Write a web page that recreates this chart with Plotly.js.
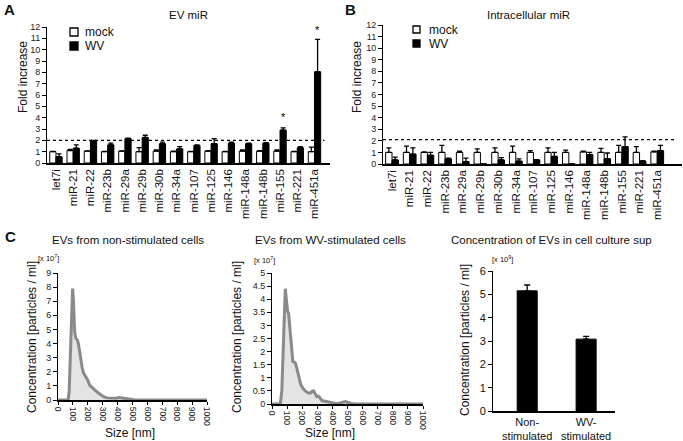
<!DOCTYPE html>
<html>
<head>
<meta charset="utf-8">
<script src="https://cdn.plot.ly/plotly-3.0.1.min.js"></script>
<style>html,body{margin:0;padding:0;background:#fff;}#chart{width:683px;height:441px;}</style>
</head>
<body>
<div id="chart"></div>
<script>
// ---------- DATA ----------
var mirs = ['let7i','miR-21','miR-22','miR-23b','miR-29a','miR-29b','miR-30b','miR-34a','miR-107','miR-125','miR-146','miR-148a','miR-148b','miR-155','miR-221','miR-451a'];
var seriesNames = ['mock', 'WV'];

// Panel A: EV miR
var evMock    = [1.0, 1.1, 1.05, 1.0, 1.05, 1.0, 1.05, 1.0, 1.0, 1.05, 1.0, 1.05, 1.05, 1.05, 1.0, 1.0];
var evMockErr = [0.02, 0.1, 0.02, 0.02, 0.02, 0.35, 0.1, 0.05, 0.02, 0.05, 0.02, 0.1, 0.05, 0.1, 0.02, 0.4];
var evWV      = [0.55, 1.3, 1.95, 1.6, 2.15, 2.25, 1.7, 1.25, 1.55, 1.7, 1.75, 1.7, 1.75, 2.9, 1.35, 8.05];
var evWVErr   = [0.25, 0.3, 0.05, 0.15, 0.05, 0.2, 0.15, 0.2, 0.05, 0.45, 0.1, 0.05, 0.05, 0.2, 0.1, 2.85];
var evStars   = ['miR-155', 'miR-451a'];
var evStarY   = [4.1, 11.7];

// Panel B: Intracellular miR
var icMock    = [1.0, 1.0, 1.0, 1.0, 1.0, 1.0, 1.0, 1.0, 1.0, 1.0, 1.0, 1.05, 1.0, 1.0, 1.0, 1.05];
var icMockErr = [0.4, 0.55, 0.05, 0.6, 0.1, 0.3, 0.4, 0.55, 0.15, 0.4, 0.2, 0.05, 0.35, 0.6, 0.5, 0.05];
var icWV      = [0.35, 0.85, 0.75, 0.45, 0.2, 0, 0.35, 0.25, 0.35, 0.65, 0, 0.8, 0.45, 1.5, 0.25, 1.15];
var icWVErr   = [0.25, 0.55, 0.25, 0.05, 0.3, 0, 0.2, 0.2, 0.02, 0.35, 0, 0.2, 0.5, 0.85, 0.05, 0.45];

// Panel C: size distributions (x 10^7 particles/ml)
var sizeNon = [0, 68, 75, 82, 90, 98, 104, 112, 120, 130, 137, 150, 162, 172, 182, 192, 200, 212, 225, 248, 270, 290, 310, 330, 360, 390, 410, 430, 460, 490, 520, 1000];
var concNon = [0, 0, 0.6, 3.0, 6.2, 7.9, 7.0, 4.8, 4.35, 4.25, 4.0, 3.0, 2.3, 1.9, 1.72, 1.6, 1.4, 1.05, 0.9, 0.7, 0.5, 0.35, 0.22, 0.15, 0.12, 0.13, 0.17, 0.13, 0.08, 0.04, 0, 0];
var sizeWV  = [0, 55, 65, 75, 82, 88, 95, 103, 110, 118, 127, 138, 148, 156, 165, 175, 190, 205, 220, 240, 255, 265, 275, 285, 297, 307, 316, 330, 350, 375, 400, 420, 445, 465, 485, 505, 525, 550, 1000];
var concWV  = [0, 0, 0.5, 2.5, 4.0, 4.4, 4.0, 3.55, 3.45, 2.9, 2.2, 1.62, 1.6, 1.55, 1.35, 1.05, 0.75, 0.6, 0.5, 0.42, 0.42, 0.48, 0.5, 0.4, 0.28, 0.3, 0.25, 0.13, 0.1, 0.09, 0.04, 0.02, 0.03, 0.07, 0.09, 0.06, 0.02, 0, 0];

// Panel C: total concentration (x 10^9)
var supCats = ['Non-<br>stimulated', 'WV-<br>stimulated'];
var supConc = [5.15, 3.08];
var supErr  = [0.25, 0.12];

// ---------- HELPERS ----------
var W = 683, H = 441;
function px(x){ return x / W; }
function py(y){ return 1 - y / H; }
function zeros(n){ var a=[]; for (var i=0;i<n;i++) a.push(0); return a; }
var FONT = 'Liberation Sans, Arial, Helvetica, sans-serif';

function barTrace(x, y, err, xa, ya, fill, name, offset){
  return {
    type: 'bar', x: x, y: y, xaxis: xa, yaxis: ya, name: name, showlegend: false,
    width: 0.36, offset: offset,
    marker: {color: fill, line: {color: '#000', width: 1}},
    error_y: {type: 'data', array: err, arrayminus: zeros(err.length), symmetric: false,
              color: '#000', thickness: 1.3, width: 2.5}
  };
}

var traces = [
  barTrace(mirs, evMock, evMockErr, 'x', 'y', '#fff', seriesNames[0], -0.36),
  barTrace(mirs, evWV, evWVErr, 'x', 'y', '#000', seriesNames[1], 0),
  barTrace(mirs, icMock, icMockErr, 'x2', 'y2', '#fff', seriesNames[0], -0.36),
  barTrace(mirs, icWV, icWVErr, 'x2', 'y2', '#000', seriesNames[1], 0),
  {type: 'scatter', mode: 'lines', x: sizeNon, y: concNon, xaxis: 'x3', yaxis: 'y3',
   fill: 'tozeroy', fillcolor: '#e4e4e4', line: {color: '#8a8a8a', width: 3}, showlegend: false},
  {type: 'scatter', mode: 'lines', x: sizeWV, y: concWV, xaxis: 'x4', yaxis: 'y4',
   fill: 'tozeroy', fillcolor: '#e4e4e4', line: {color: '#8a8a8a', width: 3}, showlegend: false},
  {type: 'bar', x: supCats, y: supConc, xaxis: 'x5', yaxis: 'y5', width: 0.34, showlegend: false,
   marker: {color: '#000', line: {color: '#000', width: 1}},
   error_y: {type: 'data', array: supErr, arrayminus: zeros(supErr.length), symmetric: false,
             color: '#000', thickness: 1.3, width: 3}}
];

var tickFont = {family: FONT, size: 9, color: '#222'};
function yAx(top, bottom, xanchor, range, dtick, extra){
  var o = {domain: [py(bottom), py(top)], anchor: xanchor, range: range, dtick: dtick,
    showgrid: false, zeroline: false, showline: true, linecolor: '#000', linewidth: 1,
    ticks: 'outside', ticklen: 4, tickcolor: '#000', tickwidth: 1, tickfont: tickFont, fixedrange: true};
  for (var k in extra) o[k] = extra[k];
  return o;
}
function xAx(left, right, yanchor, extra){
  var o = {domain: [px(left), px(right)], anchor: yanchor, showgrid: false, zeroline: false,
    showline: true, linecolor: '#000', linewidth: 1.5, fixedrange: true};
  for (var k in extra) o[k] = extra[k];
  return o;
}

var mirTickFont = {family: FONT, size: 11.5, color: '#111'};
var sizeTickFont = {family: FONT, size: 8.5, color: '#222'};

var layout = {
  width: W, height: H,
  margin: {l: 0, r: 0, t: 0, b: 0},
  paper_bgcolor: '#fff', plot_bgcolor: 'rgba(0,0,0,0)',
  font: {family: FONT, color: '#111'},
  barmode: 'overlay',
  showlegend: false,
  xaxis:  xAx(47, 330, 'y',  {type: 'category', range: [-0.52, 15.9], ticks: '', tickangle: -90, tickfont: mirTickFont}),
  yaxis:  yAx(27, 163, 'x',  [0, 12], 1),
  xaxis2: xAx(383, 682, 'y2', {type: 'category', range: [-0.51, 16.4], ticks: '', tickangle: -90, tickfont: mirTickFont}),
  yaxis2: yAx(25, 164, 'x2', [0, 12], 1),
  xaxis3: xAx(58, 207, 'y3', {range: [0, 1000], dtick: 100, tickangle: 90, linewidth: 2,
            ticks: 'outside', ticklen: 3, tickcolor: '#000', tickfont: sizeTickFont}),
  yaxis3: yAx(273, 400, 'x3', [0, 9], 1),
  xaxis4: xAx(272, 423, 'y4', {range: [0, 1000], dtick: 100, tickangle: 90, linewidth: 2,
            ticks: 'outside', ticklen: 3, tickcolor: '#000', tickfont: sizeTickFont}),
  yaxis4: yAx(273, 404, 'x4', [0, 5], 0.5),
  xaxis5: xAx(493, 615, 'y5', {type: 'category', range: [-0.58, 1.49], ticks: '', tickangle: 0,
            tickfont: {family: FONT, size: 11, color: '#111'}}),
  yaxis5: yAx(271, 411, 'x5', [0, 6], 1, {tickfont: {family: FONT, size: 11, color: '#111'}}),
  shapes: [
    {type: 'line', xref: 'x domain', yref: 'y', x0: 0, x1: 0.98, y0: 2, y1: 2,
     line: {color: '#000', width: 1.2, dash: 'dot'}},
    {type: 'line', xref: 'x2 domain', yref: 'y2', x0: 0, x1: 0.98, y0: 2.1, y1: 2.1,
     line: {color: '#000', width: 1.2, dash: 'dot'}}
  ],
  annotations: []
};

function ann(text, x, y, size, opts){
  var a = {text: text, xref: 'paper', yref: 'paper', x: px(x), y: py(y), showarrow: false,
           font: {family: FONT, size: size, color: '#111'}, xanchor: 'center', yanchor: 'middle'};
  for (var k in opts) a[k] = opts[k];
  return a;
}
var A = layout.annotations;
var S = layout.shapes;

// manual legends (square + label) for panels A and B
function legend(x0, yc, size, textX){
  var fills = ['#fff', '#000'];
  for (var i = 0; i < seriesNames.length; i++) {
    var c = yc[i];
    S.push({type: 'rect', xref: 'paper', yref: 'paper', x0: px(x0), x1: px(x0 + size),
            y0: py(c + size / 2), y1: py(c - size / 2), fillcolor: fills[i], line: {color: '#000', width: 1.3}});
    A.push(ann(seriesNames[i], textX, c, 12, {xanchor: 'left'}));
  }
}
legend(70, [32, 46], 8, 83);
legend(413, [29.5, 43.5], 7, 427);

A.push(ann('<b>A</b>', 9, 10, 15));
A.push(ann('<b>B</b>', 350, 10, 15));
A.push(ann('<b>C</b>', 10, 236, 15));
A.push(ann('EV miR', 188, 15, 11.5));
A.push(ann('Intracellular miR', 528, 15, 11.5));
A.push(ann('Fold increase', 23, 77, 12, {textangle: -90}));
A.push(ann('Fold increase', 357, 77, 12, {textangle: -90}));
A.push(ann('EVs from non-stimulated cells', 128, 240, 11.5));
A.push(ann('EVs from WV-stimulated cells', 330, 240, 11.5));
A.push(ann('Concentration of EVs in cell culture sup', 551, 240, 11.5));
A.push(ann('[x 10<sup>7</sup>]', 48, 258, 7.5));
A.push(ann('[x 10<sup>7</sup>]', 264, 260, 7.5));
A.push(ann('[x 10<sup>9</sup>]', 502, 259, 7.5));
A.push(ann('Concentration [particles / ml]', 32, 337, 12, {textangle: -90}));
A.push(ann('Concentration [particles / ml]', 237, 337, 12, {textangle: -90}));
A.push(ann('Concentration [particles / ml]', 465, 340, 12, {textangle: -90}));
A.push(ann('Size [nm]', 130, 433, 12));
A.push(ann('Size [nm]', 330, 433, 12));
for (var i = 0; i < evStars.length; i++) {
  A.push({text: '*', xref: 'x', yref: 'y', x: mirs.indexOf(evStars[i]) + 0.18, y: evStarY[i],
          showarrow: false, font: {family: FONT, size: 11, color: '#000'}});
}

Plotly.newPlot('chart', traces, layout, {staticPlot: true, displayModeBar: false});
</script>
</body>
</html>
